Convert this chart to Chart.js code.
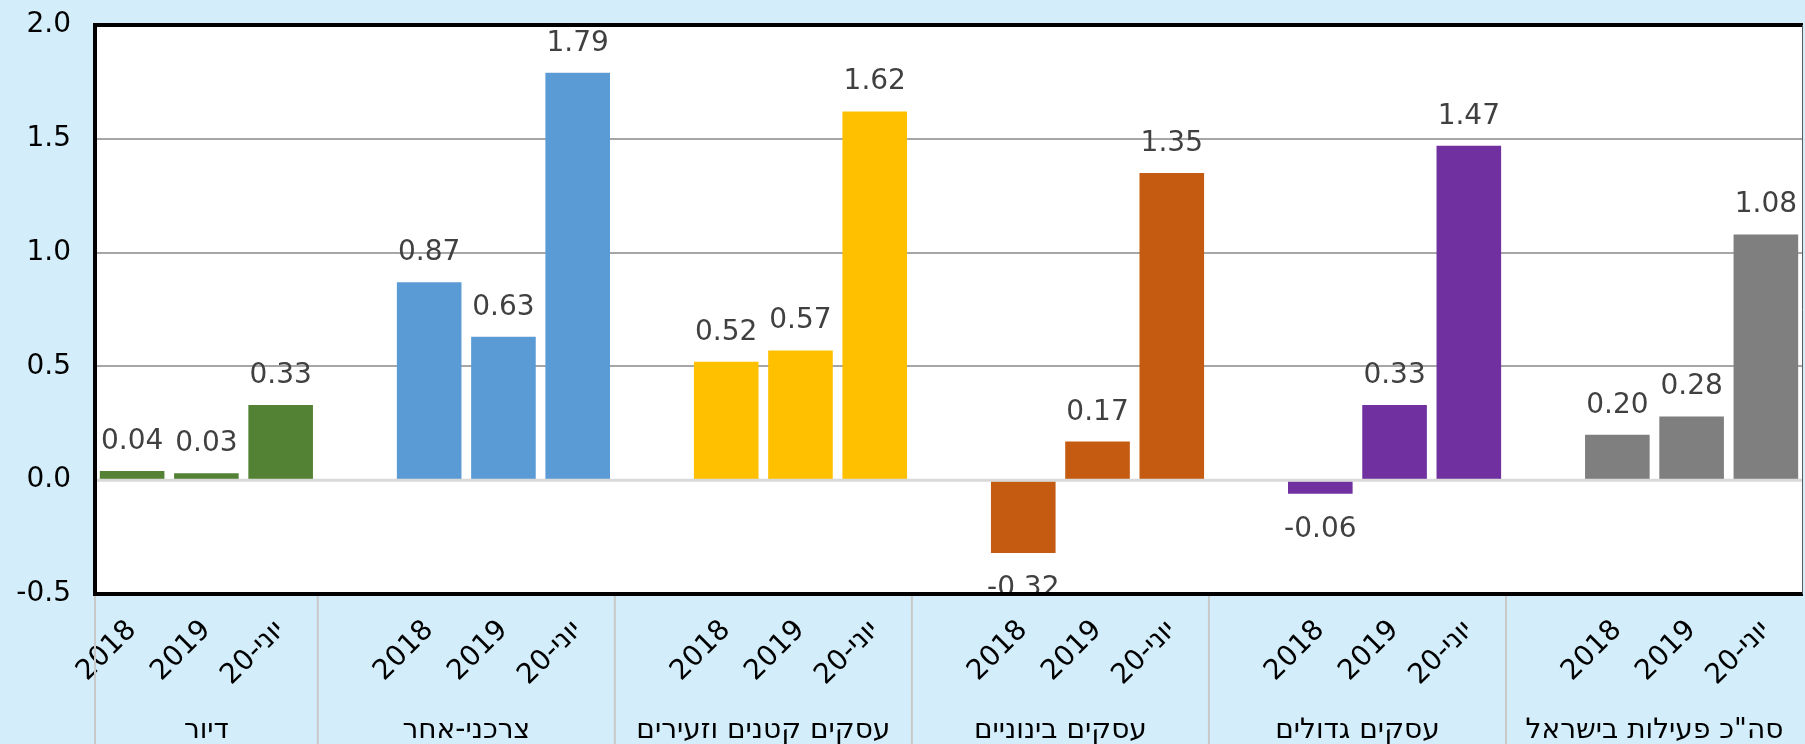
<!DOCTYPE html>
<html>
<head>
<meta charset="utf-8">
<script src="https://cdn.jsdelivr.net/npm/chart.js@4"></script>
<style>
  html, body { margin: 0; padding: 0; background: #d3eefa; }
  #wrap { width: 1805px; height: 744px; }
</style>
</head>
<body>
<div id="wrap"><canvas id="credit_growth" width="1805" height="744"></canvas></div>
<script>
// periods shown under every group
var periods = ['2018', '2019', 'יוני-20'];

// group names (bottom row)
var groups = ['דיור', 'צרכני-אחר', 'עסקים קטנים וזעירים', 'עסקים בינוניים', 'עסקים גדולים', 'סה"כ פעילות בישראל'];

// values per group: 2018, 2019, יוני-20
var housing = [0.04, 0.03, 0.33];
var consumerOther = [0.87, 0.63, 1.79];
var smallBiz = [0.52, 0.57, 1.62];
var mediumBiz = [-0.32, 0.17, 1.35];
var largeBiz = [-0.06, 0.33, 1.47];
var totalIsrael = [0.20, 0.28, 1.08];

var groupColors = ['#548235', '#5b9bd5', '#ffc000', '#c55a11', '#7030a0', '#7f7f7f'];

var yMin = -0.5, yMax = 2.0, yStep = 0.5;

/////////////////////////////////////////////////////////

var groupValues = [housing, consumerOther, smallBiz, mediumBiz, largeBiz, totalIsrael];

// excel style: one empty slot before every group but the first
var labels = [], values = [], colors = [], groupStart = [];
groupValues.forEach(function(vals, g) {
    if (g > 0) {
        labels.push('');
        values.push(null);
        colors.push('transparent');
    }
    groupStart.push(labels.length - (g > 0 ? 1 : 0));
    vals.forEach(function(v, i) {
        labels.push(periods[i]);
        values.push(v);
        colors.push(groupColors[g]);
    });
});

var FONT = '"DejaVu Sans", Verdana, sans-serif';
var FS = 28;

var chartDecor = {
    id: 'chartDecor',
    beforeDraw: function(chart) {
        var c = chart.ctx, a = chart.chartArea;
        c.save();
        c.fillStyle = '#d3eefa';
        c.fillRect(0, 0, chart.width, chart.height);
        c.fillStyle = '#ffffff';
        c.fillRect(a.left, a.top, a.right - a.left, a.bottom - a.top);
        c.restore();
    },
    afterDatasetsDraw: function(chart) {
        var c = chart.ctx, a = chart.chartArea;
        var y = chart.scales.y;
        var y0 = y.getPixelForValue(0);
        c.save();
        // zero line on top of the bars
        c.strokeStyle = '#d9d9d9';
        c.lineWidth = 3;
        c.beginPath();
        c.moveTo(a.left, y0);
        c.lineTo(a.right, y0);
        c.stroke();

        // value labels
        c.font = FS + 'px ' + FONT;
        c.fillStyle = '#404040';
        c.textAlign = 'center';
        c.textBaseline = 'alphabetic';
        var meta = chart.getDatasetMeta(0);
        meta.data.forEach(function(bar, i) {
            var v = values[i];
            if (v === null) return;
            var txt = v.toFixed(2);
            if (v >= 0) {
                c.fillText(txt, bar.x, bar.y - 22);
            } else {
                c.fillText(txt, bar.x, bar.y + 43);
            }
        });
        c.restore();
    },
    afterDraw: function(chart) {
        var c = chart.ctx, a = chart.chartArea;
        var x = chart.scales.x;
        var slot = x.getPixelForValue(1) - x.getPixelForValue(0);
        c.save();

        // group separators under the axis
        c.strokeStyle = '#c9c9c9';
        c.lineWidth = 2;
        var bounds = groupStart.map(function(s, g) {
            return g === 0 ? a.left : x.getPixelForValue(s) - slot / 2;
        });
        bounds.forEach(function(bx) {
            c.beginPath();
            c.moveTo(bx, a.bottom);
            c.lineTo(bx, chart.height);
            c.stroke();
        });

        // group names
        c.font = FS + 'px ' + FONT;
        c.fillStyle = '#000000';
        c.textAlign = 'center';
        c.textBaseline = 'alphabetic';
        groups.forEach(function(name, g) {
            var l = bounds[g];
            var r = g < groups.length - 1 ? bounds[g + 1] : a.right;
            c.fillText(name, (l + r) / 2, 738);
        });

        // plot frame
        c.strokeStyle = '#000000';
        c.lineWidth = 4;
        c.beginPath();
        c.moveTo(a.right, a.top);
        c.lineTo(a.left, a.top);
        c.lineTo(a.left, a.bottom);
        c.lineTo(a.right, a.bottom);
        c.stroke();
        c.lineWidth = 1;
        c.strokeStyle = '#595959';
        c.beginPath();
        c.moveTo(a.right - 0.5, a.top);
        c.lineTo(a.right - 0.5, a.bottom);
        c.stroke();
        c.restore();
    }
};

var ctx = document.getElementById('credit_growth');

var chart = new Chart(ctx, {
    type: 'bar',
    data: {
        labels: labels,
        datasets: [{
            data: values,
            backgroundColor: colors,
            borderWidth: 0,
            barPercentage: 0.87,
            categoryPercentage: 1.0
        }]
    },
    options: {
        responsive: false,
        animation: false,
        devicePixelRatio: 1,
        layout: { padding: { top: 25, right: 2, left: 0, bottom: 0 } },
        plugins: {
            legend: { display: false },
            tooltip: { enabled: false }
        },
        scales: {
            x: {
                grid: { display: false, drawTicks: false },
                border: { display: false },
                ticks: {
                    autoSkip: false,
                    minRotation: 45,
                    maxRotation: 45,
                    padding: 20,
                    color: '#000000',
                    font: { family: FONT, size: FS }
                },
                afterFit: function(s) {
                    s.height = 150;
                    s.paddingLeft = 0;
                    s.paddingRight = 0;
                }
            },
            y: {
                min: yMin,
                max: yMax,
                border: { display: false },
                grid: {
                    drawTicks: false,
                    lineWidth: 2,
                    color: function(c) {
                        return c.tick && c.tick.value === 0 ? 'rgba(0,0,0,0)' : '#a6a6a6';
                    }
                },
                ticks: {
                    stepSize: yStep,
                    padding: 24,
                    color: '#000000',
                    font: { family: FONT, size: FS },
                    callback: function(v) { return v.toFixed(1); }
                },
                afterFit: function(s) {
                    s.width = 95;
                    s.paddingTop = 0;
                    s.paddingBottom = 0;
                }
            }
        }
    },
    plugins: [chartDecor]
});
</script>
</body>
</html>
